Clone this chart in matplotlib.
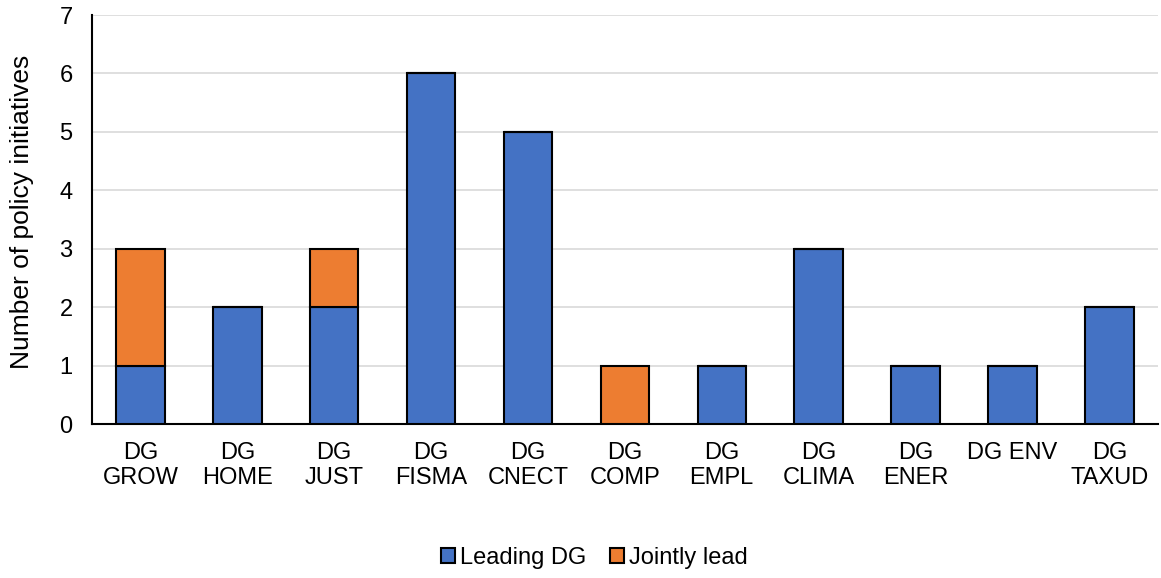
import numpy as np
import matplotlib.pyplot as plt

plt.rcParams['font.family'] = ['Liberation Sans', 'DejaVu Sans']

categories = ["DG\nGROW", "DG\nHOME", "DG\nJUST", "DG\nFISMA", "DG\nCNECT", "DG\nCOMP",
              "DG\nEMPL", "DG\nCLIMA", "DG\nENER", "DG ENV", "DG\nTAXUD"]
leading = [1, 2, 2, 6, 5, 0, 1, 3, 1, 1, 2]
jointly = [2, 0, 1, 0, 0, 1, 0, 0, 0, 0, 0]

blue = '#4472C4'
orange = '#ED7D31'

fig = plt.figure(figsize=(11.61, 5.78), dpi=100)
ax = fig.add_axes([0.0792, 0.2664, 0.918, 0.7076])

x = np.arange(len(categories))
ax.bar(x, leading, width=0.5, color=blue, edgecolor='black', linewidth=1.5,
       label="Leading DG", zorder=3)
ax.bar(x, jointly, width=0.5, bottom=leading, color=orange, edgecolor='black',
       linewidth=1.5, label="Jointly lead", zorder=3)

ax.set_xlim(-0.5, len(categories) - 0.5)
ax.set_ylim(0, 7)
ax.set_yticks(range(0, 8))
ax.set_xticks(x)
ax.set_xticklabels(categories, fontsize=17, linespacing=1.2)
ax.tick_params(axis='both', length=0, labelsize=17)
ax.tick_params(axis='x', pad=13)
ax.tick_params(axis='y', pad=14)
ax.set_ylabel("Number of policy initiatives", fontsize=19)
ax.yaxis.set_label_coords(-0.054, 0.518)
ax.grid(axis='y', color='#d9d9d9', linewidth=1.2, zorder=0)

for s in ['top', 'right']:
    ax.spines[s].set_visible(False)
ax.spines['left'].set_linewidth(1.5)
ax.spines['bottom'].set_linewidth(1.5)

fig.legend(loc='center', bbox_to_anchor=(0.512, 0.035), ncol=2, frameon=False,
           fontsize=17, handlelength=0.6, handleheight=0.6, handletextpad=0.2,
           columnspacing=1.0)

plt.savefig("out.png", dpi=100)
